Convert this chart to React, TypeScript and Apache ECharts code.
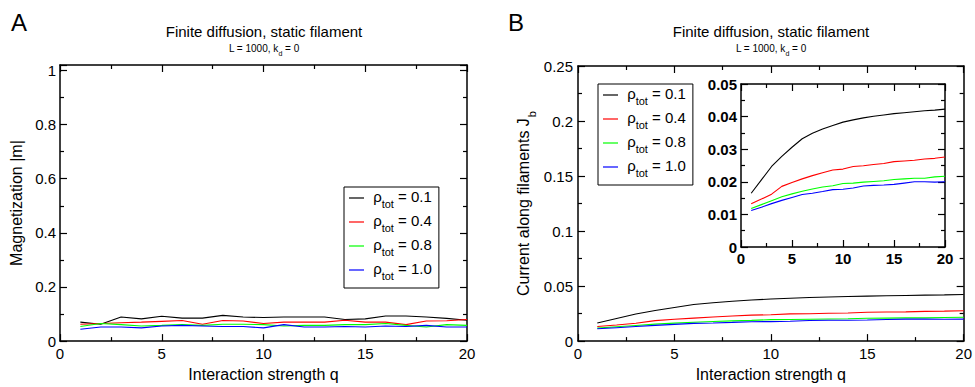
import React, { useEffect, useRef } from "react";
import * as echarts from "echarts";

const interactionQ = [1, 2, 3, 4, 5, 6, 7, 8, 9, 10, 11, 12, 13, 14, 15, 16, 17, 18, 19, 20];
const rhoLabels = ["0.1", "0.4", "0.8", "1.0"];
const lineColors = ["#000000", "#ff0000", "#00ff00", "#0000ff"];

// Panel A: magnetization |m|
const magRho01 = [0.070, 0.062, 0.089, 0.082, 0.092, 0.085, 0.085, 0.095, 0.089, 0.087, 0.089, 0.089, 0.089, 0.080, 0.082, 0.093, 0.093, 0.089, 0.084, 0.077];
const magRho04 = [0.062, 0.065, 0.068, 0.070, 0.073, 0.076, 0.062, 0.076, 0.074, 0.065, 0.070, 0.070, 0.070, 0.077, 0.070, 0.070, 0.061, 0.074, 0.075, 0.080];
const magRho08 = [0.054, 0.065, 0.061, 0.056, 0.058, 0.061, 0.058, 0.062, 0.062, 0.061, 0.056, 0.058, 0.058, 0.061, 0.061, 0.065, 0.058, 0.052, 0.061, 0.058];
const magRho10 = [0.044, 0.052, 0.052, 0.049, 0.056, 0.058, 0.056, 0.054, 0.054, 0.049, 0.061, 0.052, 0.052, 0.054, 0.052, 0.056, 0.054, 0.058, 0.052, 0.052];

// Panel B: current along filaments J_b
const curRho01 = [0.0165, 0.0206, 0.0247, 0.0278, 0.0306, 0.0332, 0.0349, 0.0362, 0.0373, 0.0383, 0.0390, 0.0396, 0.0401, 0.0405, 0.0409, 0.0412, 0.0415, 0.0418, 0.0420, 0.0423];
const curRho04 = [0.0133, 0.0147, 0.0162, 0.0186, 0.0198, 0.0209, 0.0219, 0.0228, 0.0236, 0.0239, 0.0247, 0.0249, 0.0253, 0.0256, 0.0262, 0.0264, 0.0266, 0.0270, 0.0272, 0.0276];
const curRho08 = [0.0118, 0.0130, 0.0142, 0.0154, 0.0163, 0.0171, 0.0178, 0.0184, 0.0188, 0.0195, 0.0196, 0.0199, 0.0201, 0.0203, 0.0207, 0.0209, 0.0211, 0.0211, 0.0215, 0.0217];
const curRho10 = [0.0112, 0.0122, 0.0133, 0.0143, 0.0152, 0.0161, 0.0165, 0.0170, 0.0176, 0.0177, 0.0181, 0.0187, 0.0189, 0.0190, 0.0192, 0.0196, 0.0200, 0.0200, 0.0199, 0.0200];

const magSeries = [magRho01, magRho04, magRho08, magRho10];
const curSeries = [curRho01, curRho04, curRho08, curRho10];

const FONT = "Liberation Sans, Arial, Helvetica, sans-serif";

function axisPair(gridIndex: number, pos: [string, string], opts: any, labelStyle: any) {
  const base = {
    type: "value",
    gridIndex,
    min: opts.min,
    max: opts.max,
    interval: opts.interval,
    splitLine: { show: false },
    axisLine: { show: true, onZero: false, lineStyle: { color: "#000", width: 1.5 } },
    axisTick: { show: true, inside: true, length: 7, lineStyle: { color: "#000", width: 1.2 } },
    minorTick: { show: true, splitNumber: 2, length: 4, lineStyle: { color: "#000", width: 1.2 } },
  };
  const main: any = {
    ...base,
    position: pos[0],
    axisLabel: { show: true, color: "#000", fontFamily: FONT, showMaxLabel: opts.showMax !== false, ...labelStyle },
  };
  if (opts.name) {
    main.name = opts.name;
    main.nameLocation = "middle";
    main.nameGap = opts.nameGap;
    main.nameTextStyle = { color: "#000", fontFamily: FONT, fontSize: 16, rich: opts.rich };
  }
  const second: any = { ...base, position: pos[1], axisLabel: { show: false } };
  return [main, second];
}

export default function App() {
  const ref = useRef<HTMLDivElement>(null);
  useEffect(() => {
    if (!ref.current) return;
    const chart = echarts.init(ref.current, null, { renderer: "svg" });
    const normLabel = { fontSize: 15, margin: 5 };
    const boldLabel = { fontSize: 15, fontWeight: "bold", margin: 4 };
    const xA = axisPair(0, ["bottom", "top"], { min: 0, max: 20, interval: 5, name: "Interaction strength q", nameGap: 21 }, normLabel);
    const xB = axisPair(1, ["bottom", "top"], { min: 0, max: 20, interval: 5, name: "Interaction strength q", nameGap: 21 }, normLabel);
    const xI = axisPair(2, ["bottom", "top"], { min: 0, max: 20, interval: 5 }, boldLabel);
    const yA = axisPair(0, ["left", "right"], { min: 0, max: 1.02, interval: 0.2, showMax: false, name: "Magnetization |m|", nameGap: 36 }, { fontSize: 15, margin: 4 });
    const yB = axisPair(1, ["left", "right"], {
      min: 0, max: 0.25, interval: 0.05, name: "{s|Current along filaments J}{sub|b}", nameGap: 44,
      rich: {
        s: { fontSize: 16, fontFamily: FONT, color: "#000", lineHeight: 19, verticalAlign: "top" },
        sub: { fontSize: 11, fontFamily: FONT, color: "#000", lineHeight: 11, padding: [11, 0, 0, 1], verticalAlign: "top" },
      },
    }, { fontSize: 15, margin: 5 });
    const yI = axisPair(2, ["left", "right"], { min: 0, max: 0.05, interval: 0.01 }, boldLabel);

    const series: any[] = [];
    magSeries.forEach((arr, i) => {
      series.push({
        type: "line", name: rhoLabels[i], xAxisIndex: 0, yAxisIndex: 0, showSymbol: false,
        data: interactionQ.map((q, k) => [q, arr[k]]), lineStyle: { color: lineColors[i], width: 1.1 }, itemStyle: { color: lineColors[i] },
      });
    });
    curSeries.forEach((arr, i) => {
      series.push({
        type: "line", name: rhoLabels[i], xAxisIndex: 2, yAxisIndex: 2, showSymbol: false,
        data: interactionQ.map((q, k) => [q, arr[k]]), lineStyle: { color: lineColors[i], width: 1.1 }, itemStyle: { color: lineColors[i] },
      });
      series.push({
        type: "line", name: rhoLabels[i], xAxisIndex: 4, yAxisIndex: 4, showSymbol: false,
        data: interactionQ.map((q, k) => [q, arr[k]]), lineStyle: { color: lineColors[i], width: 1.1 }, itemStyle: { color: lineColors[i] },
      });
    });

    const legendRich = {
      r: { fontSize: 15, fontFamily: FONT, color: "#000", lineHeight: 18, verticalAlign: "top" },
      s: { fontSize: 11, fontFamily: FONT, color: "#000", lineHeight: 11, padding: [10, 0, 0, 0], verticalAlign: "top" },
    };
    const legendBase = (left: number, top: number) => ({
      left, top,
      orient: "vertical",
      data: rhoLabels,
      icon: "rect",
      itemWidth: 15,
      itemHeight: 1.2,
      itemGap: 3,
      padding: [2, 7, 6, 5],
      borderColor: "#000",
      borderWidth: 1,
      backgroundColor: "#fff",
      selectedMode: false,
      formatter: (name: string) => `{r| ρ}{s|tot}{r| = ${name}}`,
      textStyle: { rich: legendRich, color: "#000", fontFamily: FONT },
    });

    const subRich = {
      a: { fontSize: 10, fontFamily: FONT, color: "#000", lineHeight: 12, verticalAlign: "top" },
      b: { fontSize: 7, fontFamily: FONT, color: "#000", lineHeight: 7, padding: [7, 0, 0, 0], verticalAlign: "top" },
    };
    const mkTitle = (cx: number) => [
      { type: "text", x: cx, y: 31, style: { text: "Finite diffusion, static filament", font: `15px ${FONT}`, fill: "#000", align: "center", verticalAlign: "middle" } },
      { type: "text", x: cx, y: 49, style: { text: "{a|L = 1000, k}{b|d}{a| = 0}", rich: subRich, align: "center", verticalAlign: "middle" } },
    ];

    chart.setOption({
      animation: false,
      backgroundColor: "#fff",
      grid: [
        { left: 60, top: 65, width: 407, height: 284, containLabel: false },
        { left: 578, top: 66, width: 387, height: 283, containLabel: false },
        { left: 741, top: 84, width: 204, height: 163, containLabel: false, show: true, backgroundColor: "#fff", borderWidth: 0 },
      ],
      xAxis: [...xA, ...xB, ...xI],
      yAxis: [...yA, ...yB, ...yI],
      legend: [legendBase(344, 187), legendBase(598, 84)],
      series,
      graphic: [
        { type: "text", x: 19, y: 22, style: { text: "A", font: `24px ${FONT}`, fill: "#000", align: "center", verticalAlign: "middle" } },
        { type: "text", x: 516, y: 22, style: { text: "B", font: `24px ${FONT}`, fill: "#000", align: "center", verticalAlign: "middle" } },
        ...mkTitle(264),
        ...mkTitle(771),
      ],
    });
    return () => chart.dispose();
  }, []);
  return <div ref={ref} style={{ position: "fixed", left: 0, top: 0, width: 975, height: 387 }} />;
}
